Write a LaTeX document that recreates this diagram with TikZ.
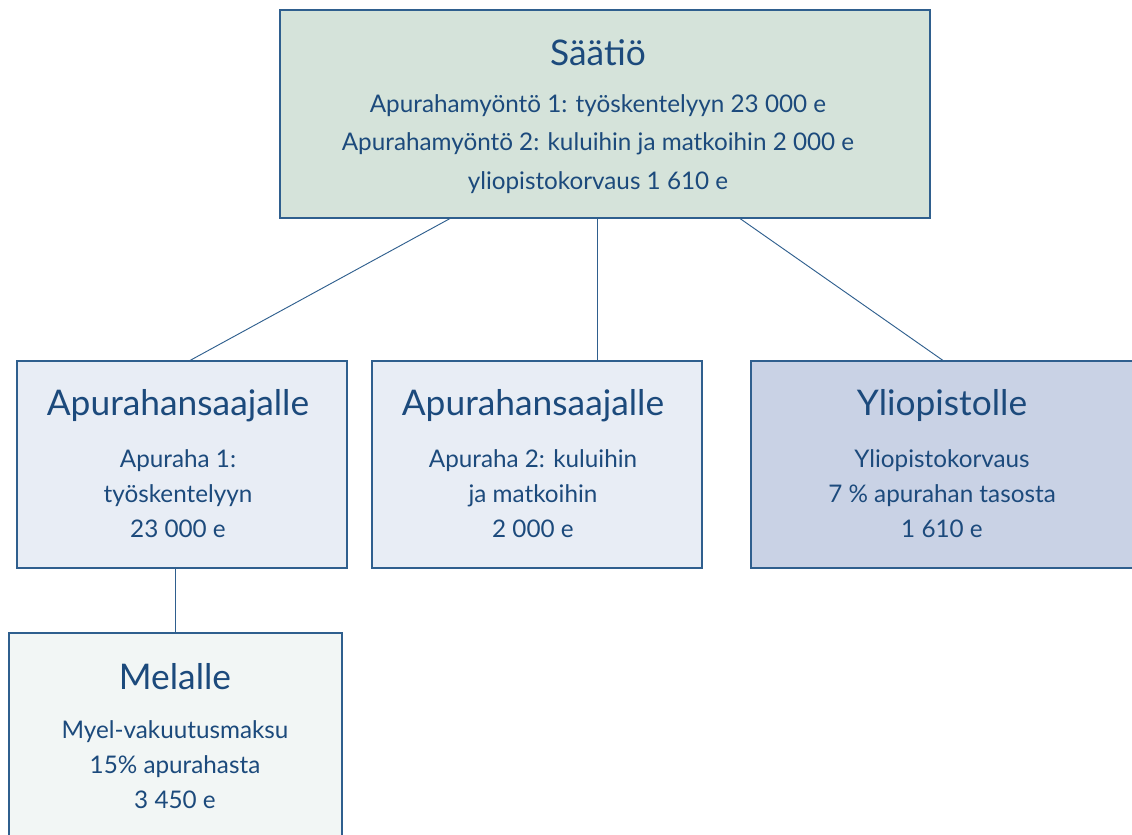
\documentclass[tikz,border=0pt]{standalone}
\usepackage{fontspec}
\setmainfont{Lato}
\usepackage{xcolor}
\definecolor{edgeblue}{HTML}{2F5F8E}
\definecolor{textblue}{HTML}{1C4A7C}
\definecolor{fillgreen}{HTML}{D5E3DA}
\definecolor{filllight}{HTML}{E8EDF5}
\definecolor{fillblue}{HTML}{C9D2E5}
\definecolor{fillpale}{HTML}{F2F6F5}

\begin{document}
\begin{tikzpicture}[
x=0.75pt, y=-0.75pt,
every node/.style={text=textblue},
box/.style={draw=edgeblue, line width=0.8pt, inner sep=0pt, minimum height=207*0.75pt},
heading/.style={anchor=base, font=\fontsize{26.5}{30}\selectfont},
body/.style={align=center, font=\fontsize{18.2}{26.3}\selectfont},
topbody/.style={align=center, font=\fontsize{18.2}{28.8}\selectfont},
link/.style={draw=edgeblue, line width=0.7pt},
]
\useasboundingbox (0,0) rectangle (1132,835);
\clip (0,0) rectangle (1132,835);
% boxes
\node[box, fill=fillgreen, minimum width=650*0.75pt, minimum height=208*0.75pt] (saatio) at (605,114) {};
\node[box, fill=filllight, minimum width=330*0.75pt] (saaja1) at (182,464.5) {};
\node[box, fill=filllight, minimum width=330*0.75pt] (saaja2) at (537,464.5) {};
\node[box, fill=fillblue, minimum width=400*0.75pt] (yliopisto) at (951,464.5) {};
\node[box, fill=fillpale, minimum width=333*0.75pt, minimum height=240*0.75pt] (mela) at (175.5,753) {};
% texts
\node[heading] (saatioT) at (598,65) {Säätiö};
\node[topbody] (saatioB) at (598,144) {Apurahamyöntö 1: työskentelyyn 23 000 e\\Apurahamyöntö 2: kuluihin ja matkoihin 2 000 e\\yliopistokorvaus 1 610 e};
\node[heading] (saaja1T) at (178,415) {Apurahansaajalle};
\node[body] (saaja1B) at (178,494) {Apuraha 1:\\työskentelyyn\\23 000 e};
\node[heading] (saaja2T) at (533,415) {Apurahansaajalle};
\node[body] (saaja2B) at (533,494) {Apuraha 2: kuluihin\\ja matkoihin\\2 000 e};
\node[heading] (yliopistoT) at (942,415) {Yliopistolle};
\node[body] (yliopistoB) at (942,494) {Yliopistokorvaus\\7 \% apurahan tasosta\\1 610 e};
\node[heading] (melaT) at (175,689) {Melalle};
\node[body] (melaB) at (175,765) {Myel-vakuutusmaksu\\15\% apurahasta\\3 450 e};
% links
\draw[link] (saatio.south -| 450,0) -- (saaja1.north -| 190,0);
\draw[link] (saatio.south -| 597,0) -- (saaja2.north -| 597,0);
\draw[link] (saatio.south -| 740,0) -- (yliopisto.north -| 943,0);
\draw[link] (saaja1.south -| 175,0) -- (mela.north -| 175,0);
\end{tikzpicture}
\end{document}
